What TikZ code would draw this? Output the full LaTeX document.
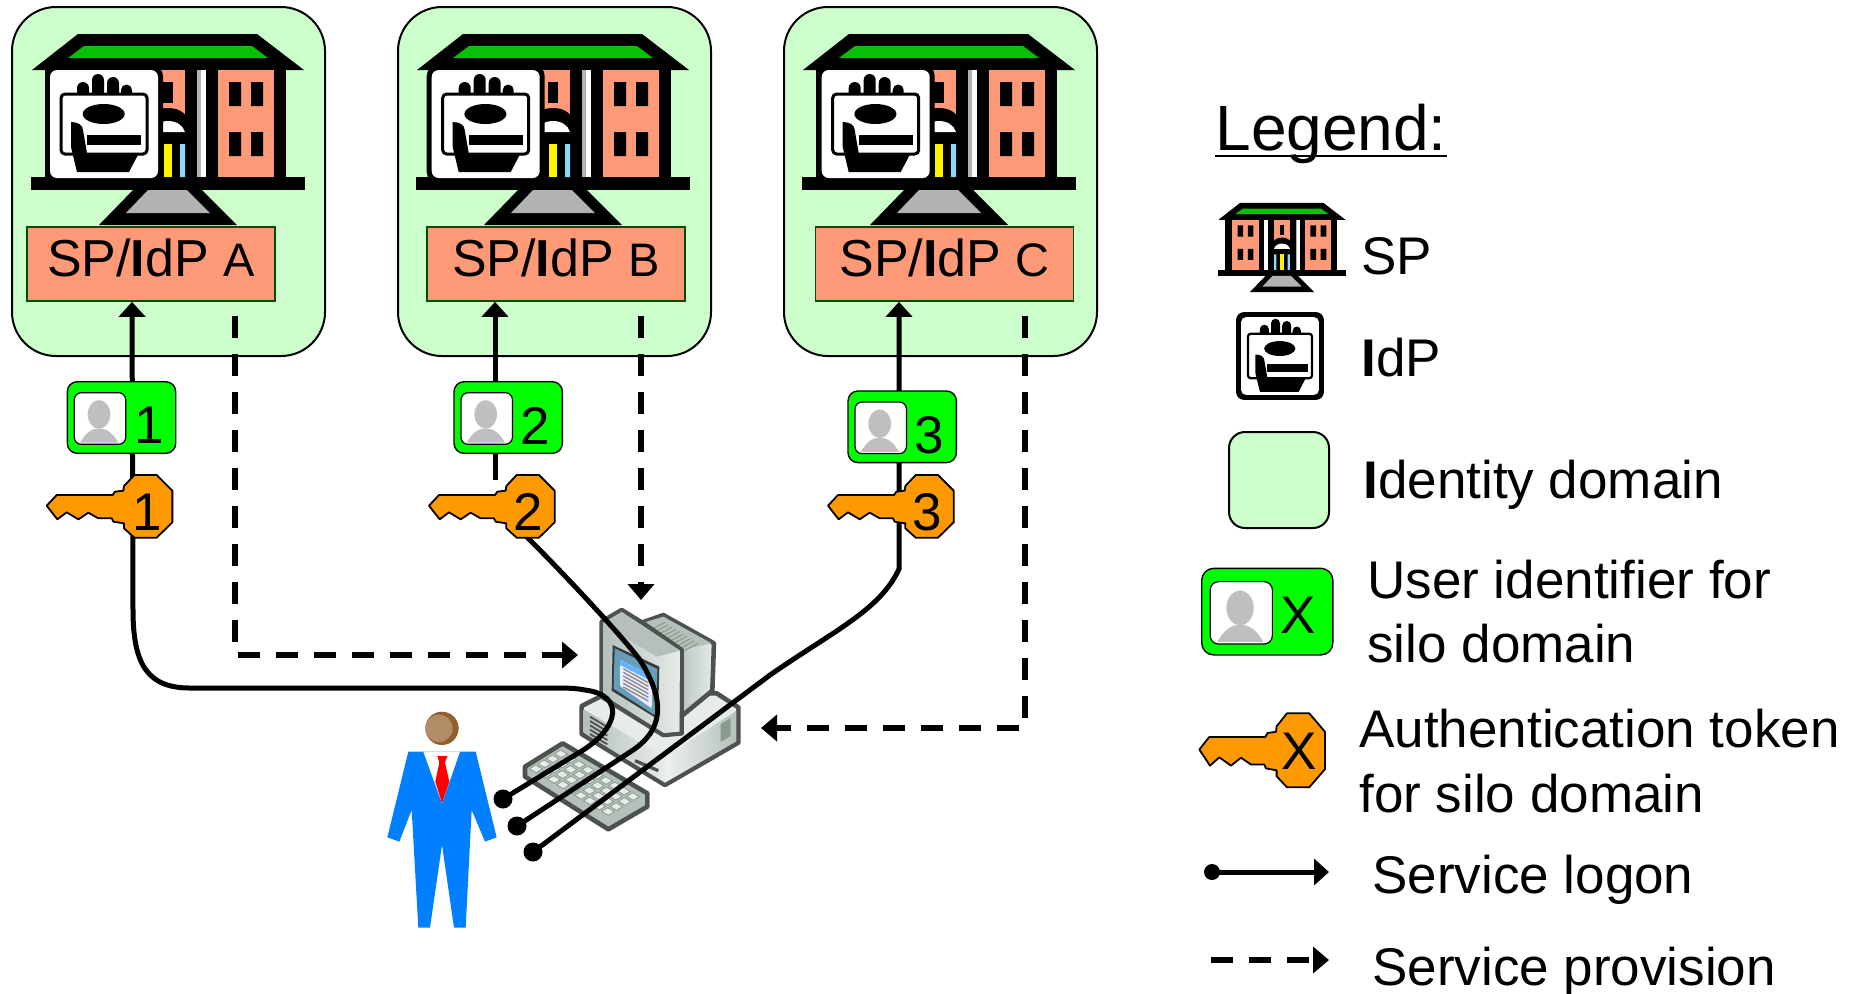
\documentclass[tikz,border=0pt]{standalone}
\usepackage{fontspec}
\setmainfont{Liberation Sans}
\usetikzlibrary{arrows.meta,calc}
\definecolor{domgreen}{HTML}{CCFFCC}
\definecolor{salmon}{HTML}{FF9A78}
\definecolor{roofgreen}{HTML}{08C008}
\definecolor{uidgreen}{HTML}{00FF00}
\definecolor{keyorange}{HTML}{FF9900}
\definecolor{stairgrey}{HTML}{B2B2B2}
\definecolor{suitblue}{HTML}{0080FF}
\definecolor{pcedge}{HTML}{4D524F}
\definecolor{pclight}{HTML}{E6ECE8}
\definecolor{pcmid}{HTML}{B4C0B9}
\definecolor{pcdark}{HTML}{8A9A90}
\tikzset{
  txt/.style={font=\fontsize{26.5}{30}\selectfont,anchor=base west,inner sep=0pt},
  icontxt/.style={font=\fontsize{26.5}{30}\selectfont,inner sep=0pt},
  domain/.style={draw=black,line width=1pt,fill=domgreen,rounded corners=#1},
  spbox/.style={draw=black!70!green,line width=.8pt,fill=salmon,inner sep=0pt,minimum height=37pt,text height=24.85pt,text depth=12.15pt,font=\fontsize{26}{30}\selectfont},
  logon/.style={line width=2.5pt,-{Triangle[width=13pt,length=7.5pt]}},
  provline/.style={line width=2.7pt,dash pattern=on 11pt off 8pt,-{Triangle[width=13pt,length=8pt]}},
  dotnode/.style={circle,fill=black,inner sep=0pt,minimum size=9.5pt},
  pcbody/.style={draw=pcedge,line width=2.3pt,line join=round},
}
\newcommand{\bldg}[3]{%
\begin{scope}[shift={(#1,#2)},scale=#3]
 \fill (78,34)--(257,34)--(304,70)--(32,70)--cycle;
 \fill[roofgreen] (84,46)--(252,46)--(268,58)--(68,58)--cycle;
 \fill (45,69) rectangle (286,178);
 \fill (31,177) rectangle (305,190);
 \fill (133,190)--(202,190)--(237,225)--(99,225)--cycle;
 \fill[stairgrey] (148,190)--(187,190)--(210,213)--(126,213)--cycle;
 \fill[salmon] (218,70) rectangle (274,177);
 \fill[salmon] (62,70) rectangle (118,177);
 \fill (229,82) rectangle (241,106) (251,82) rectangle (263,106) (229,132) rectangle (241,156) (251,132) rectangle (263,156);
 \fill (95,82) rectangle (107,106) (73,82) rectangle (85,106) (95,132) rectangle (107,156) (73,132) rectangle (85,156);
 \fill[stairgrey] (197,70) rectangle (201,177);
 \fill[white] (201,70) rectangle (206,177);
 \fill[white] (130,70) rectangle (139,177);
 \fill[salmon] (151,70) rectangle (185,144);
 \fill (163,82) rectangle (173,103);
 \fill (146,144)--(146,130) .. controls (146,115) and (155,108) .. (168,108) .. controls (181,108) and (190,115) .. (190,130)--(190,144)--cycle;
 \fill[white] (151,132) .. controls (153,125) and (160,121) .. (168,121) .. controls (176,121) and (183,125) .. (185,132)--cycle;
 \fill[yellow] (164,144) rectangle (172,177);
 \fill[cyan!45!white] (180,144) rectangle (185,177) (151,144) rectangle (156,177);
\end{scope}}
\newcommand{\idcard}[4]{%
\begin{scope}[shift={(#1,#2)},scale=#3]
 \pgfmathsetmacro{\rA}{5.5*#3}\pgfmathsetmacro{\rB}{3.5*#3}\pgfmathsetmacro{\rC}{2*#3}\pgfmathsetmacro{\lw}{1.5*#3}
 \fill[rounded corners=\rA pt] (45,65) rectangle (163,183);
 \fill[white,rounded corners=\rB pt] (45+#4,65+#4) rectangle (163-#4,183-#4);
 \fill (77,94) rectangle (89,88) (83,88) circle (6);
 \fill (92,94) rectangle (104,80) (98,80) circle (6);
 \fill (107,94) rectangle (119,83) (113,83) circle (6);
 \fill (121,94) rectangle (132,90) (126.5,90) circle (5.5);
 \draw[line width=\lw pt,fill=white,rounded corners=\rC pt] (61,94) rectangle (147,154);
 \fill (103.7,114) ellipse (21 and 10);
 \fill (87,135) rectangle (141,145);
 \fill (71,122) .. controls (78,122) and (83,125) .. (83,130)--(87,153)--(139,153)--(129,172)--(77,172)--(71,147)--cycle;
\end{scope}}
\newcommand{\uidbox}[7]{%
\begin{scope}[shift={(#2,#3)},scale=#4]
 \pgfmathsetmacro{\rA}{5*#4}\pgfmathsetmacro{\rB}{3.5*#4}
 \draw[line width=.7pt,fill=uidgreen,rounded corners=\rA pt] (0,0) rectangle (108.4,71.6);
 \draw[line width=.6pt,fill=white,rounded corners=\rB pt] (7,11) rectangle (58.4,62.6);
 \fill[black!25] (31.7,32.7) ellipse (11.3 and 14.3);
 \fill[black!25] (12.7,61) .. controls (19,50) and (25,46.7) .. (31.7,46.7) .. controls (38.4,46.7) and (45,50) .. (51,61)--cycle;
 \node[icontxt] (#1) at (#6,#7) {#5};
\end{scope}}
\newcommand{\keytok}[7]{%
\begin{scope}[shift={(#2,#3)},xscale=.3333,yscale=#4]
 \draw[line width=.9pt,fill=keyorange,line join=round] (0,92)--(30,60)--(198,60)--(205,50)--(230,47)--(232,33)--(263,0)--(330,0)--(377,47)--(377,142)--(330,188)--(263,188)--(232,160)--(232,145)--(200,140)--(195,130)--(155,130)--(125,113)--(95,133)--(60,112)--(32,133)--cycle;
 \node[icontxt] (#1) at (#6,#7) {#5};
\end{scope}}
\begin{document}
\begin{tikzpicture}[x=.5pt,y=-.5pt]
\useasboundingbox (0,0) rectangle (1855,993);
% domains
\draw[domain=22pt] (12,7) rectangle (325,356);
\draw[domain=22pt] (398,7) rectangle (711,356);
\draw[domain=22pt] (784,7) rectangle (1097,356);
% buildings
\bldg{0}{0}{1}
\bldg{385}{0}{1}
\bldg{771}{0}{1}
\idcard{0}{0}{1}{5}
\idcard{381.7}{0}{1}{5}
\idcard{771.7}{0}{1}{5}
% SP boxes
\node[spbox,minimum width=124pt] (spA) at (151,264) {SP/{\bfseries I}dP {\fontsize{23.5}{30}\selectfont A}};
\node[spbox,minimum width=129pt] (spB) at (556,264) {SP/{\bfseries I}dP {\fontsize{23.5}{30}\selectfont B}};
\node[spbox,minimum width=129pt] (spC) at (944.5,264) {SP/{\bfseries I}dP {\fontsize{23.5}{30}\selectfont C}};
% computer: keyboard
\begin{scope}[shift={(370,580)},scale=.3333]
 \path[pcbody,fill=pcmid] (465,560)--(578,490)--(832,640)--(832,680)--(715,748)--(465,590)--cycle;
 \foreach \j in {0,1,2,3}{\foreach \i in {0,...,8}{
   \fill[pclight,draw=pcdark,line width=.4pt] ($(572,510)+\i*(27,16)+\j*(-25,15)$) -- ++(20,12) -- ++(-18,11) -- ++(-20,-12) -- cycle;
 }}
 % person
 \fill[suitblue] (115,515)--(317,515)--(380,772)--(345,785)--(305,690)--(287,1043)--(252,1043)--(216,795)--(180,1043)--(145,1043)--(125,690)--(88,785)--(52,772)--cycle;
 \fill[white] (160,515)--(270,515)--(216,670)--cycle;
 \fill[red] (202,528)--(232,528)--(225,548)--(238,605)--(216,670)--(196,605)--(208,548)--cycle;
 \fill[brown!75!black] (216,445) circle (50);
 \fill[brown!70!white!85!black] (207,445) circle (41);
\end{scope}
% computer: case and monitor
\begin{scope}[shift={(570,600)},scale=.3333]
 \path[pcbody,fill=pclight] (35,318)--(100,285)--(440,280)--(505,322)--(505,428)--(285,555)--(35,402)--cycle;
 \path[left color=pcmid,right color=pclight] (41,328)--(285,472)--(285,548)--(41,398)--cycle;
 \path[left color=pclight!70!white,right color=pcmid] (285,472)--(499,332)--(499,424)--(285,548)--cycle;
 \foreach \i in {0,1,2,3,4,5}{\draw[pcedge,line width=.9pt] (60,350+\i*13)--(112,381+\i*13);}
 \draw[pcedge,line width=1.6pt] (195,482)--(265,512);
 \fill[pcdark] (452,372)--(482,354)--(482,408)--(452,426)--cycle;
 % monitor back
 \path[pcbody,left color=pcdark,right color=pclight] (215,68)--(280,45)--(432,130)--(427,272)--(335,348)--(335,150)--cycle;
 \fill[pcmid] (220,68)--(280,50)--(425,130)--(335,150)--cycle;
 \foreach \i in {0,...,9}{\draw[pcdark,line width=.5pt] (245+\i*11,88+\i*7)--(285+\i*11,67+\i*7);}
 % monitor front
 \path[pcbody,fill=pclight] (95,65)--(155,30)--(220,70)--(335,150)--(335,400)--(280,405)--(95,290)--cycle;
 \path[left color=pcmid,right color=pclight] (101,68)--(155,36)--(330,152)--(328,395)--(282,399)--(101,285)--cycle;
 \fill[pcmid] (101,68)--(155,36)--(330,152)--(260,170)--(175,118)--cycle;
 \fill[pcedge!70!black] (128,135)--(268,200)--(264,358)--(125,272)--cycle;
 \fill[blue!35!cyan!55!black!60!white] (134,145)--(262,207)--(258,348)--(131,266)--cycle;
 \fill[white!92!blue] (150,180)--(248,228)--(245,325)--(150,258)--cycle;
 \fill[blue!50!cyan!60!white] (150,180)--(248,228)--(247,245)--(150,195)--cycle;
 \foreach \i in {0,...,5}{\draw[black!45,line width=.7pt] (160,206+\i*11)--(235,248+\i*11);}
\end{scope}
% named ends
\node[dotnode] (dotA) at (503,799) {};
\node[dotnode] (dotB) at (517,826) {};
\node[dotnode] (dotC) at (533,852) {};
\coordinate (vA) at (132,400);
\coordinate (vB) at (495,400);
\coordinate (vC) at (899,400);
\coordinate (dA) at (235,400);
\coordinate (dB) at (641,400);
\coordinate (dC) at (1025,400);
\coordinate (cornerA) at (235,655);
\coordinate (tipA) at (578,655);
\coordinate (tipB) at (641,600);
\coordinate (cornerC) at (1025,728);
\coordinate (tipC) at (761,728);
\coordinate (keyOutB) at (525,535);
% connectors
\draw[logon] (dotA.center) -- (580,752) .. controls (620,728) and (625,695) .. (585,690) .. controls (575,688) and (565,688) .. (555,688) -- (190,688) .. controls (148,688) and (133,665) .. (133,610) -- (vA |- spA.south);
\draw[line width=2.5pt] (dotB.center) -- (630,752) .. controls (665,730) and (665,700) .. (640,660) .. controls (625,640) and (575,585) .. (keyOutB);
\draw[logon] (vB) -- (vB |- spB.south);
\draw[line width=2.5pt] (vB) -- (495,480);
\draw[logon] (dotC.center) -- (770,675) .. controls (835,630) and (880,610) .. (899,569) -- (vC |- spC.south);
\draw[provline,dash phase=12pt] (dA |- spA.south) -- (cornerA) -- (tipA);
\draw[provline,dash phase=12pt] (dB |- spB.south) -- (tipB);
\draw[provline,dash phase=12pt] (dC |- spC.south) -- (cornerC) -- (tipC);
% tokens
\uidbox{uid1}{67.3}{381.7}{1}{1}{82}{44}
\uidbox{uid2}{454}{381.7}{1}{2}{81}{44}
\uidbox{uid3}{848}{391}{1}{3}{81}{44}
\keytok{key1}{46.7}{475}{.3333}{1}{301}{111}
\keytok{key2}{429}{475}{.3333}{2}{298}{111}
\keytok{key3}{828}{475}{.3333}{3}{298}{111}
% legend
\node[anchor=base west,inner sep=0pt,font=\fontsize{32}{36}\selectfont] (leg) at (1215,150) {Legend:};
\draw[line width=1.3pt] ([yshift=-3pt]leg.base west) -- ([yshift=-3pt]leg.base east);
\bldg{1203.5}{187.1}{.467}
\idcard{1202.5}{263.6}{.745}{6.7}
\node[txt] (tSP) at (1361,274) {SP};
\node[txt] (tIdP) at (1361,376) {{\bfseries I}dP};
\draw[domain=8pt] (1229,432) rectangle (1329,528);
\node[txt] (tDom) at (1363,498) {{\bfseries I}dentity domain};
\uidbox{uidX}{1201.7}{568.3}{1.21}{X}{80}{39}
\node[txt] (tU1) at (1367,598) {User identifier for};
\node[txt] (tU2) at (1367,662) {silo domain};
\keytok{keyX}{1199.3}{713.3}{.3933}{X}{301}{97}
\node[txt] (tA1) at (1359,747) {Authentication token};
\node[txt] (tA2) at (1359,812) {for silo domain};
\node[dotnode,minimum size=8pt] (legDot) at (1212,872) {};
\coordinate (legTip) at (1329,872);
\draw[logon] (legDot.center) -- (legTip);
\node[txt] (tS1) at (1372,893) {Service logon};
\coordinate (legDashS) at (1211,960);
\coordinate (legDashE) at (1329,960);
\draw[provline] (legDashS) -- (legDashE);
\node[txt] (tS2) at (1372,985) {Service provision};
\end{tikzpicture}
\end{document}
